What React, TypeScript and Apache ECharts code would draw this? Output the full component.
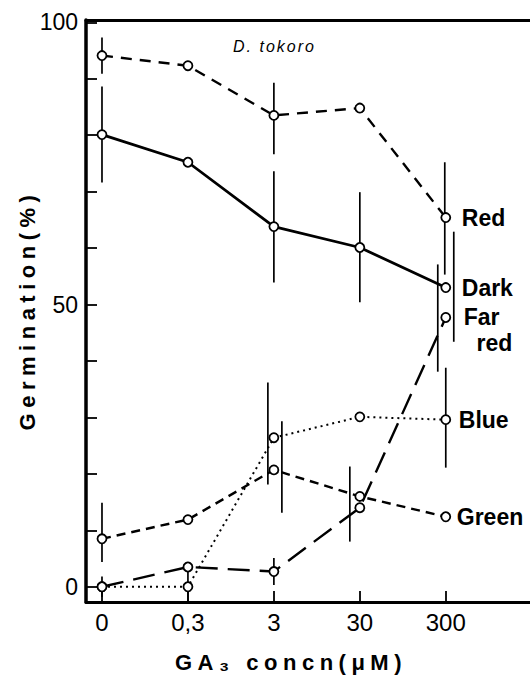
import React, { useEffect, useRef } from 'react';
import * as echarts from 'echarts';

// ---- data ----
const xTickLabels = ['0', '0,3', '3', '30', '300'];
const xIdx = [0, 1, 2, 3, 4];
const yTickValues = [0, 10, 20, 30, 40, 50, 60, 70, 80, 90, 100];
const yLabelValues = [0, 50, 100];

const redValues = [94.1, 92.3, 83.5, 84.8, 65.4];
const darkValues = [80.1, 75.2, 63.8, 60.1, 53.0];
const farRedValues = [0, 3.5, 2.7, 14.0, 47.7];
const blueValues = [0, 0, 26.4, 30.1, 29.6];
const greenValues = [8.5, 11.9, 20.7, 16.0, 12.4];

// error bars: [xIndex, low, high]
const redErr = [[0, 90.9, 97.3], [2, 76.6, 89.3], [4, 55.3, 75.2]];
const darkErr = [[0, 71.6, 88.6], [2, 53.9, 73.6], [3, 50.4, 69.9], [4, 43.4, 62.9]];
const farRedErr = [[0, -1.8, 1.8], [2, 0.3, 5.1], [3, 8.0, 21.3], [4, 38.1, 57.1]];
const blueErr = [[1, -2.7, 3.0], [2, 18.1, 36.2], [4, 21.1, 38.8]];
const greenErr = [[0, 4.4, 14.9], [2, 13.1, 29.3]];

// horizontal pixel nudges of the error bars (styling only)
const redErrShift = [0, 0, -1];
const darkErrShift = [0, 0, 0, 8];
const farRedErrShift = [0, 0, -10, -8];
const blueErrShift = [0, -6, 0];
const greenErrShift = [0, 8];

const FONT = '"Liberation Sans", Arial, sans-serif';

export default function App() {
  const ref = useRef<HTMLDivElement>(null);
  useEffect(() => {
    document.body.style.margin = '0';
    const el = ref.current!;
    const chart = echarts.init(el, null, { renderer: 'svg' });

    const pts = (vals: number[]) => vals.map((v, i) => [xIdx[i], v]);
    const errData = (rows: number[][], shift: number[]) =>
      rows.map((r, i) => [r[0], r[1], r[2], shift[i] || 0]);

    const lineSeries = (
      name: string,
      vals: number[],
      dash: any,
      width: number,
      label: string,
      distance: number,
      extraLabel: any = {}
    ) => ({
      type: 'line',
      name,
      data: pts(vals),
      symbol: 'circle',
      symbolSize: 9,
      z: 3,
      itemStyle: { color: '#fff', borderColor: '#000', borderWidth: 1.8 },
      lineStyle: { color: '#000', width, type: dash },
      endLabel: {
        show: true,
        formatter: label,
        color: '#000',
        fontFamily: FONT,
        fontWeight: 'bold',
        fontSize: 23,
        distance,
        ...extraLabel,
      },
      emphasis: { disabled: true },
    });

    const errSeries = (rows: number[][], shift: number[]) => ({
      type: 'custom',
      z: 1,
      silent: true,
      data: errData(rows, shift),
      renderItem: (params: any, api: any) => {
        const x = api.value(0);
        const p1 = api.coord([x, api.value(1)]);
        const p2 = api.coord([x, api.value(2)]);
        const off = api.value(3);
        return {
          type: 'line',
          shape: { x1: p1[0] + off, y1: p1[1], x2: p2[0] + off, y2: p2[1] },
          style: { stroke: '#000', lineWidth: 1.7 },
        };
      },
    });

    chart.setOption({
      animation: false,
      grid: { left: 86, right: 0, top: 20, bottom: 77, containLabel: false, outerBoundsMode: 'none' },
      xAxis: [
        {
          type: 'value',
          min: -0.186,
          max: 4.98,
          position: 'bottom',
          axisLine: { show: true, onZero: false, lineStyle: { color: '#000', width: 3 } },
          axisTick: { show: true, inside: true, length: 11, customValues: xIdx, lineStyle: { color: '#000', width: 1.8 } },
          axisLabel: {
            customValues: xIdx,
            formatter: (v: number) => xTickLabels[Math.round(v)],
            color: '#000',
            fontFamily: FONT,
            fontSize: 24,
            margin: 8,
          },
          splitLine: { show: false },
        },
        {
          type: 'value',
          min: -0.186,
          max: 4.98,
          position: 'top',
          axisLine: { show: true, onZero: false, lineStyle: { color: '#000', width: 3 } },
          axisTick: { show: false },
          axisLabel: { show: false },
          splitLine: { show: false },
        },
      ],
      yAxis: {
        type: 'value',
        min: -2.7,
        max: 100.4,
        axisLine: { show: true, onZero: false, lineStyle: { color: '#000', width: 3.5 } },
        axisTick: { show: true, inside: true, length: 11, customValues: yTickValues, lineStyle: { color: '#000', width: 1.8 } },
        axisLabel: { customValues: yLabelValues, color: '#000', fontFamily: FONT, fontSize: 23, margin: 8 },
        splitLine: { show: false },
      },
      series: [
        errSeries(redErr, redErrShift),
        errSeries(darkErr, darkErrShift),
        errSeries(farRedErr, farRedErrShift),
        errSeries(blueErr, blueErrShift),
        errSeries(greenErr, greenErrShift),
        lineSeries('Red', redValues, [11, 8], 2.4, 'Red', 16),
        lineSeries('Dark', darkValues, 'solid', 2.8, 'Dark', 16),
        lineSeries('Far red', farRedValues, [22, 10], 2.4, 'Far\n  red', 18, { lineHeight: 26, offset: [0, 13] }),
        lineSeries('Blue', blueValues, [2, 4], 2, 'Blue', 13),
        lineSeries('Green', greenValues, [9, 6], 2.4, 'Green', 11),
      ],
      graphic: [
        {
          type: 'text',
          x: 27,
          y: 310,
          rotation: Math.PI / 2,
          style: {
            text: 'Germination(%)',
            font: 'bold 22px ' + FONT,
            fill: '#000',
            align: 'center',
            verticalAlign: 'middle',
          },
        },
        {
          type: 'text',
          x: 291,
          y: 662,
          style: {
            text: 'GA₃ concn(μM)',
            font: 'bold 22px ' + FONT,
            fill: '#000',
            align: 'center',
            verticalAlign: 'middle',
          },
        },
        {
          type: 'text',
          x: 233,
          y: 46,
          style: {
            text: 'D. tokoro',
            font: 'italic 16px ' + FONT,
            fill: '#000',
            align: 'left',
            verticalAlign: 'middle',
          },
        },
      ],
    });

    // letter spacing of the widely spaced titles
    el.querySelectorAll('text').forEach((t) => {
      const s = t.textContent || '';
      if (s === 'Germination(%)') t.setAttribute('letter-spacing', '5.5');
      if (s === 'GA₃ concn(μM)') t.setAttribute('letter-spacing', '5.5');
      if (s === 'D. tokoro') t.setAttribute('letter-spacing', '2');
    });

    return () => chart.dispose();
  }, []);
  return <div ref={ref} style={{ width: 530, height: 679 }} />;
}
